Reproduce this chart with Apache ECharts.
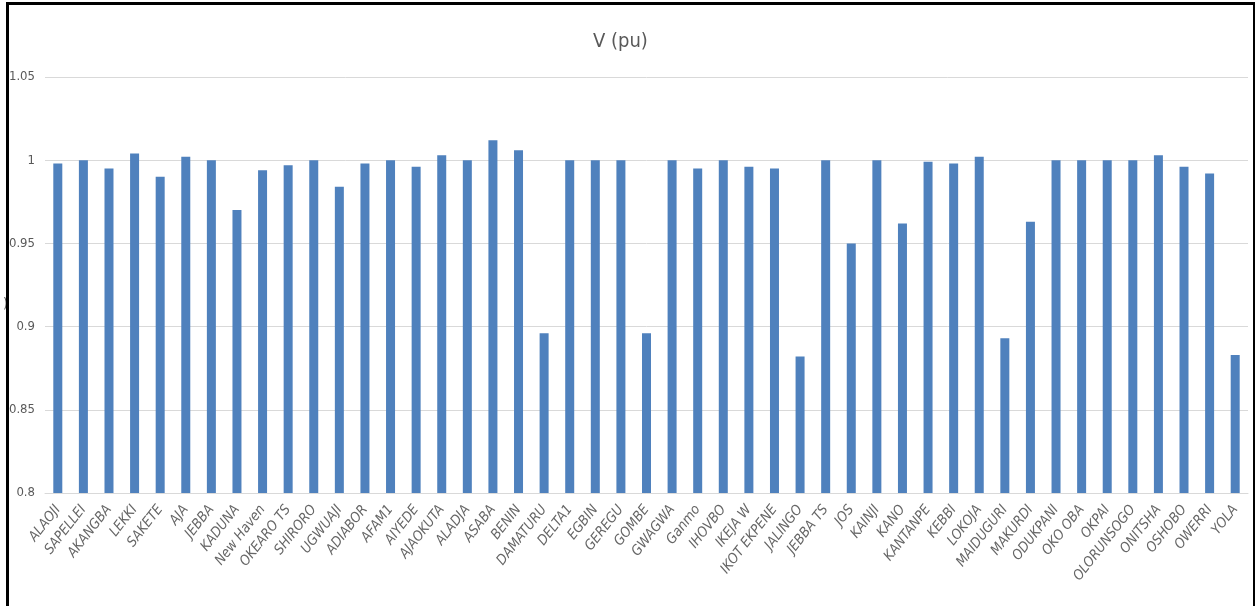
<!DOCTYPE html>
<html>
<head>
<meta charset="utf-8">
<script src="https://cdn.jsdelivr.net/npm/echarts@6/dist/echarts.min.js"></script>
<style>
  html, body { margin: 0; padding: 0; background: #fff; }
  #frame {
    position: absolute; left: 6px; top: 2px; width: 1244px; height: 610px;
    border-left: 3px solid #000; border-top: 3px solid #000; border-right: 2px solid #000;
  }
  #chart { position: absolute; left: 0; top: 0; width: 1259px; height: 606px; }
</style>
</head>
<body>
<div id="chart"></div>
<div id="frame"></div>
<script>
  // bus names
  var buses = ['ALAOJI', 'SAPELLEI', 'AKANGBA', 'LEKKI', 'SAKETE', 'AJA', 'JEBBA', 'KADUNA', 'New Haven',
    'OKEARO TS', 'SHIRORO', 'UGWUAJI', 'ADIABOR', 'AFAM1', 'AIYEDE', 'AJAOKUTA', 'ALADJA', 'ASABA', 'BENIN',
    'DAMATURU', 'DELTA1', 'EGBIN', 'GEREGU', 'GOMBE', 'GWAGWA', 'Ganmo', 'IHOVBO', 'IKEJA W', 'IKOT EKPENE',
    'JALINGO', 'JEBBA TS', 'JOS', 'KAINJI', 'KANO', 'KANTANPE', 'KEBBI', 'LOKOJA', 'MAIDUGURI', 'MAKURDI',
    'ODUKPANI', 'OKO OBA', 'OKPAI', 'OLORUNSOGO', 'ONITSHA', 'OSHOBO', 'OWERRI', 'YOLA']
  // voltage per unit
  var voltage = [0.998, 1.0, 0.995, 1.004, 0.990, 1.002, 1.0, 0.970, 0.994,
    0.997, 1.0, 0.984, 0.998, 1.0, 0.996, 1.003, 1.0, 1.012, 1.006,
    0.896, 1.0, 1.0, 1.0, 0.896, 1.0, 0.995, 1.0, 0.996, 0.995,
    0.882, 1.0, 0.950, 1.0, 0.962, 0.999, 0.998, 1.002, 0.893, 0.963,
    1.0, 1.0, 1.0, 1.0, 1.003, 0.996, 0.992, 0.883]
  var yMin = 0.8, yMax = 1.05, yStep = 0.05

  var font = '"Liberation Sans Narrow", "DejaVu Sans Condensed", sans-serif'
  var chart = echarts.init(document.getElementById('chart'))
  chart.setOption({
    animation: false,
    title: {
      text: 'V (pu)',
      left: 588,
      top: 27,
      textStyle: { fontFamily: font, fontSize: 20, fontWeight: 'normal', color: '#595959' }
    },
    graphic: [{
      type: 'text', left: 3, top: 297,
      style: { text: ')', fill: '#595959', font: '14px ' + font }
    }],
    grid: { left: 45, right: 11, top: 77, bottom: 113 },
    xAxis: {
      type: 'category',
      data: buses,
      axisLine: { lineStyle: { color: '#d9d9d9' } },
      axisTick: { show: false },
      axisLabel: { interval: 0, rotate: 52, color: '#666666', fontFamily: font, fontSize: 14, fontStyle: 'italic', margin: 14 }
    },
    yAxis: {
      type: 'value',
      min: yMin,
      max: yMax,
      interval: yStep,
      axisLine: { show: false },
      axisTick: { show: false },
      splitLine: { lineStyle: { color: '#d9d9d9', width: 1 } },
      axisLabel: {
        color: '#595959', fontFamily: font, fontSize: 13, margin: 10,
        formatter: function (v) { return String(Math.round(v * 100) / 100) }
      }
    },
    series: [{
      type: 'bar',
      data: voltage,
      barWidth: 9,
      itemStyle: { color: '#4f81bd' }
    }]
  })
</script>
</body>
</html>
